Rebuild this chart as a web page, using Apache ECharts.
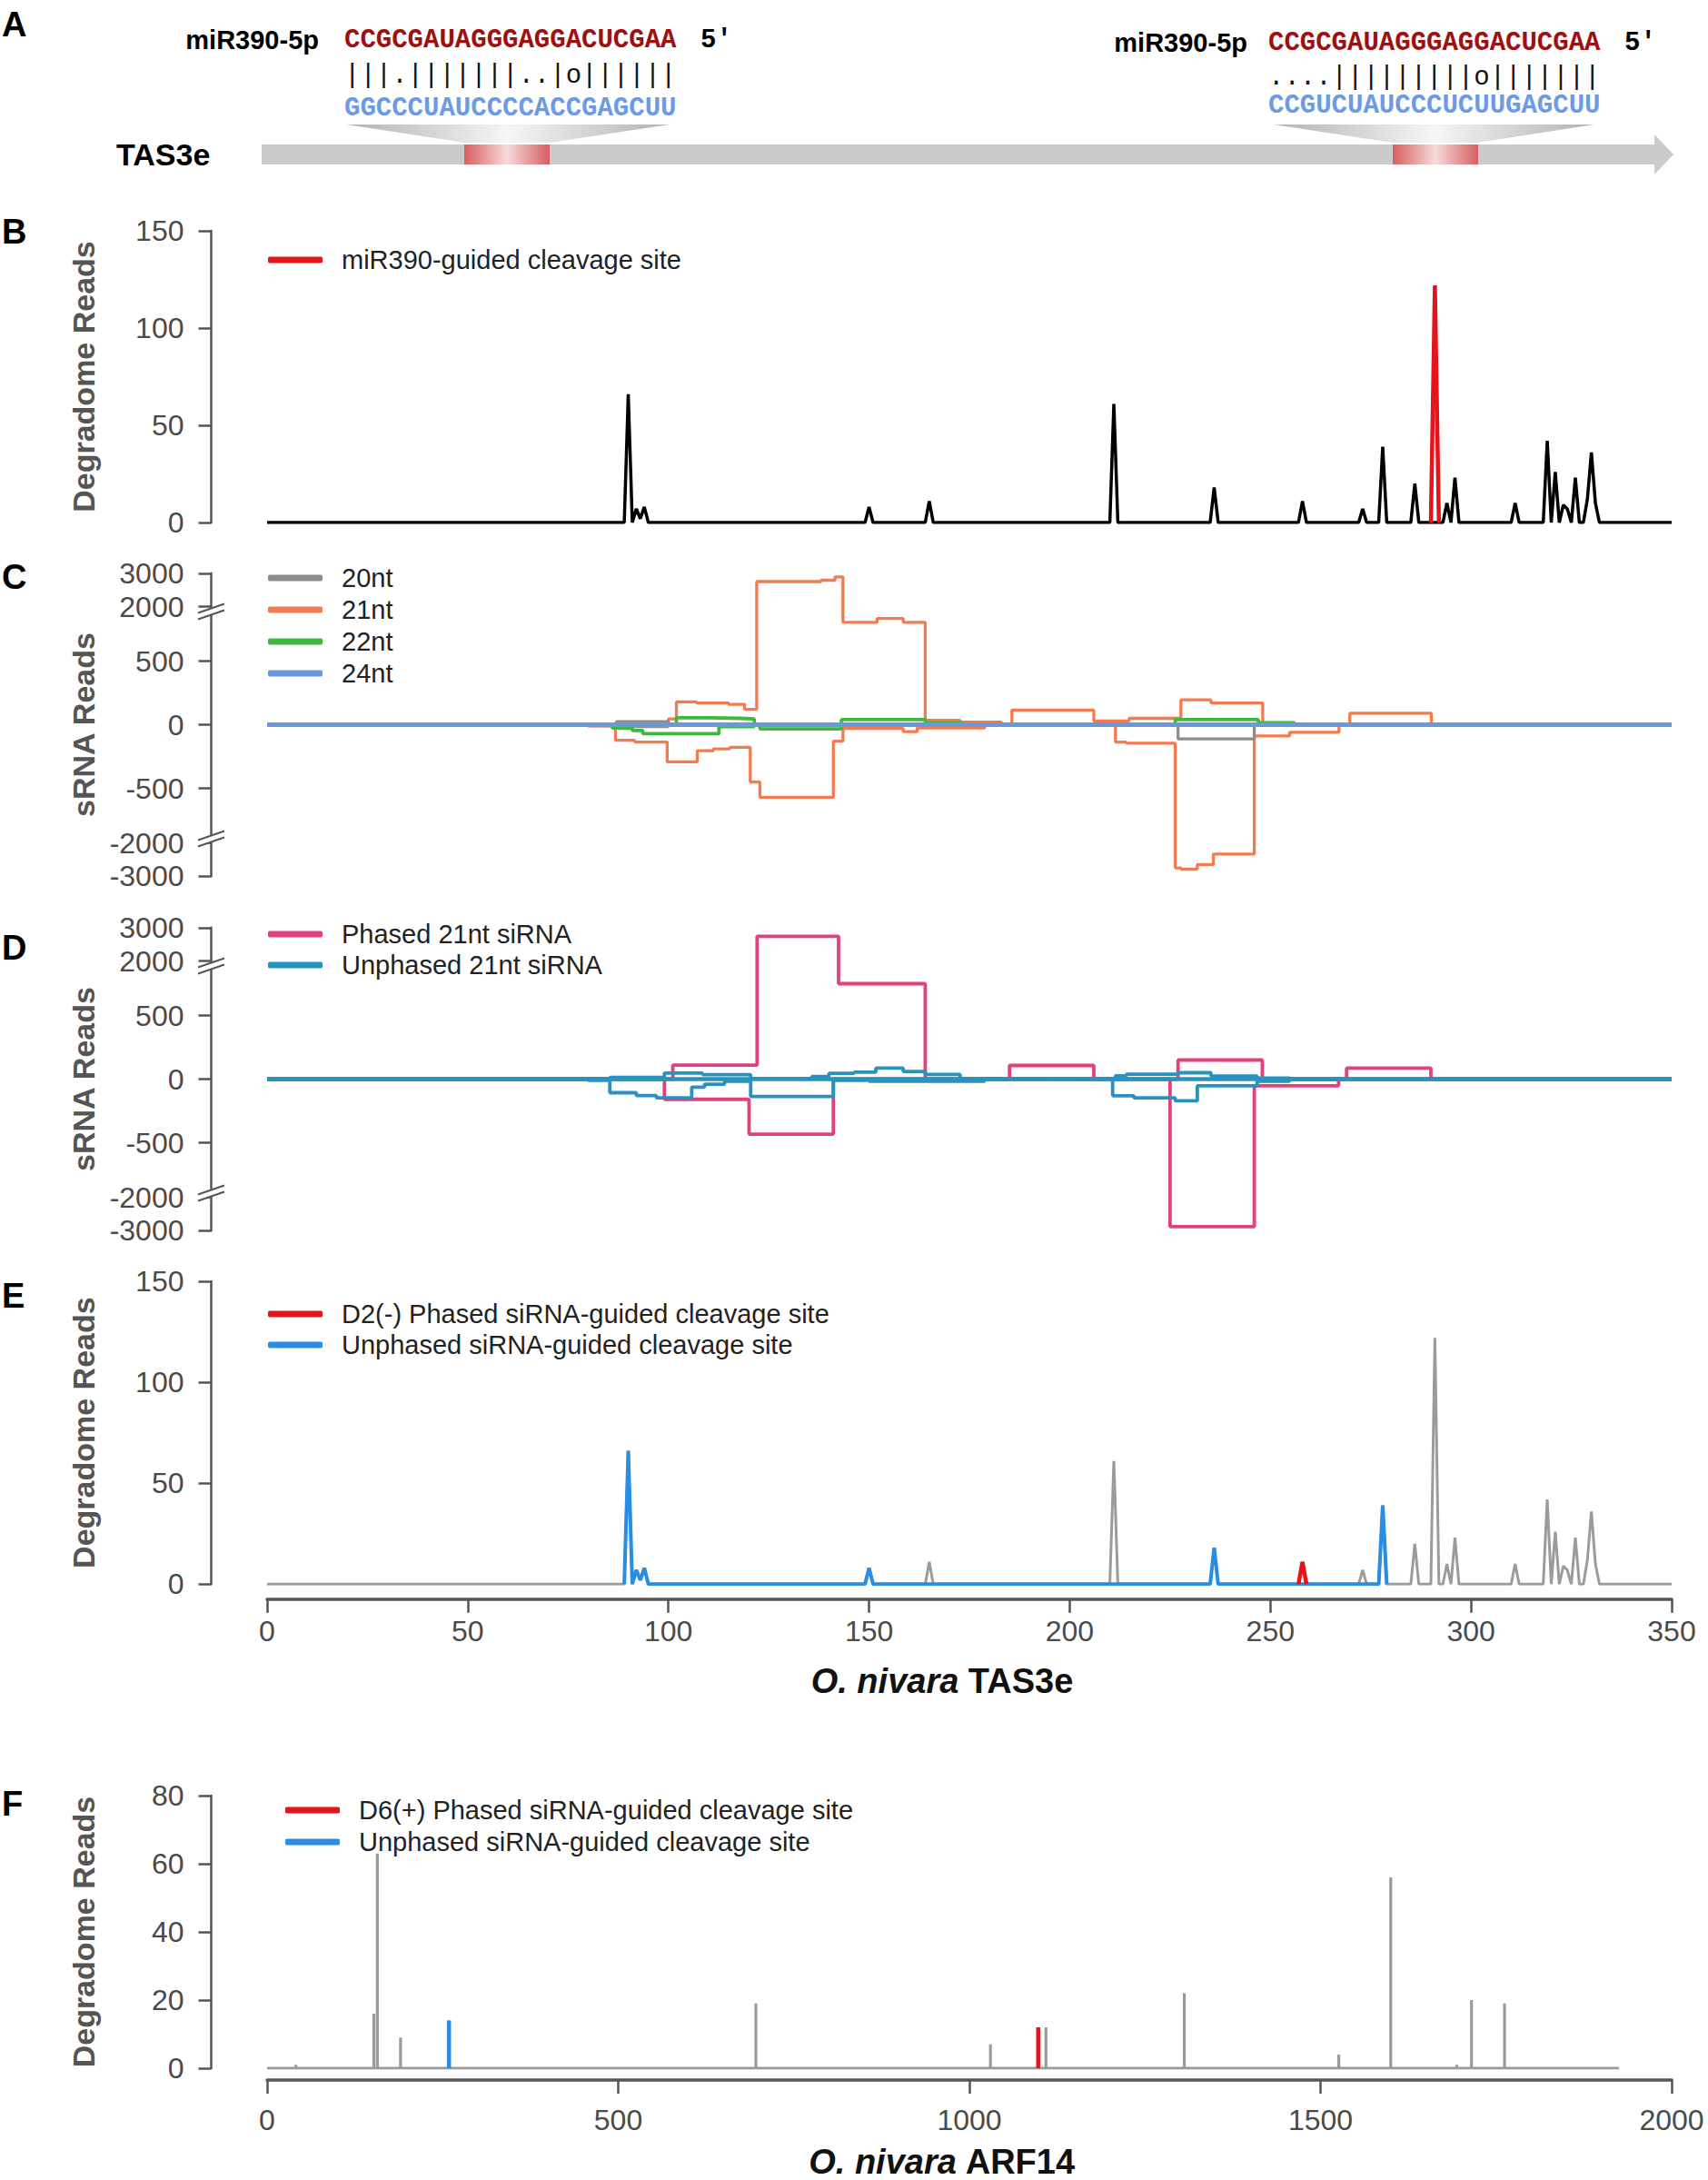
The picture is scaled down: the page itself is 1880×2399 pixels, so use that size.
<!DOCTYPE html>
<html><head><meta charset="utf-8">
<script src="https://cdn.jsdelivr.net/npm/echarts@6/dist/echarts.min.js"></script>
<style>html,body{margin:0;padding:0;background:#fff;}#c{width:1880px;height:2399px;}</style>
</head><body><div id="c"></div>
<script>
// ================= DATA =================
// Panel A: miR390 / TAS3e pairing
const mirLabel = 'miR390-5p';
const mirSeq = 'CCGCGAUAGGGAGGACUCGAA';
const site1Pair = '|||.|||||||..|o||||||';
const site1Target = 'GGCCCUAUCCCCACCGAGCUU';
const site2Pair = '....|||||||||o|||||||';
const site2Target = 'CCGUCUAUCCCUCUUGAGCUU';
const geneLabel = 'TAS3e';

// TAS3e degradome (position, reads)
const tasPeakPos = [90, 92, 93, 94, 150, 165, 211, 236, 258, 273, 278, 286, 291, 294, 296, 311, 319, 321, 323, 324, 326, 329, 330, 331];
const tasPeakVal = [66, 7, 2, 8, 8, 11, 61, 18, 11, 7, 39, 20, 122, 10, 23, 10, 42, 26, 9, 7, 23, 12, 36, 10];
const tasLength = 350;
const mir390Site = 291;
const tasUnphasedSites = [90, 92, 93, 94, 150, 236, 278];
const tasUnphasedRange = [89, 279];
const tasPhasedSite = 258;

// sRNA coverage steps (start position, reads held until next position)
const c20SensePos = [0, 87, 100, 350];
const c20SenseVal = [0, 24, 0, 0];
const c20AntiPos = [0, 80, 87, 100, 227, 246, 350];
const c20AntiVal = [0, -8, -15, 0, -111, 0, 0];
const c21SensePos = [0, 87, 100, 102, 107, 115, 119, 122, 138, 141.5, 143.5, 152, 158.5, 164, 172.7, 183, 185.6, 206, 214.8, 227.7, 235.2, 248.1, 269.8, 290.1, 350];
const c21SenseVal = [0, 15, 45, 180, 170, 160, 120, 2750, 2790, 2890, 805, 835, 805, 35, 20, 0, 115, 30, 50, 195, 170, 0, 90, 0, 0];
const c21AntiPos = [0, 80, 86.8, 91.6, 99.7, 107.2, 111.2, 115.3, 120.4, 122.8, 141.1, 143.5, 158.5, 162, 178.8, 211.4, 214.1, 226.3, 227.7, 231.8, 235.8, 246, 254.8, 267.1, 350];
const c21AntiVal = [0, -10, -123, -136, -292, -205, -190, -178, -450, -570, -130, -30, -55, -25, 0, -136, -145, -2750, -2790, -2650, -2335, -88, -60, 0, 0];
const c22SensePos = [0, 102, 110, 118, 121.4, 143.1, 164, 173, 226.3, 247, 256, 350];
const c22SenseVal = [0, 55, 50, 45, 0, 40, 15, 0, 40, 15, 0, 0];
const c22AntiPos = [0, 86, 91, 93.6, 112.6, 121.4, 122.8, 143.1, 350];
const c22AntiVal = [0, -25, -45, -70, -15, 0, -33, 0, 0];
const c24Pos = [0, 350];
const c24Val = [0, 0];

const phSensePos = [0, 101.1, 122.1, 142.4, 164, 185, 206, 227, 248, 269, 290, 350];
const phSenseVal = [0, 110, 2740, 750, 0, 107, 0, 150, 0, 86, 0, 0];
const phAntiPos = [0, 99, 120.1, 141.1, 225, 246, 267, 350];
const phAntiVal = [0, -159, -433, 0, -2880, -52, 0, 0];
const unSensePos = [0, 80, 85.4, 99, 108.5, 120.5, 135.7, 140, 146.3, 151.7, 158.5, 164, 172.7, 183, 211.4, 214.1, 227, 235.2, 246.7, 254.8, 350];
const unSenseVal = [0, 5, 14, 47, 35, 5, 20, 45, 55, 86, 60, 36, 5, 0, 26, 38, 50, 24, 7, 0, 0];
const unAntiPos = [0, 80, 85.4, 92, 97, 105.8, 109, 114, 120.5, 141.1, 150, 178.8, 210.7, 216, 226.3, 231.8, 246.7, 254.8, 350];
const unAntiVal = [0, -10, -107, -130, -148, -64, -40, -16, -136, -10, -16, 0, -131, -148, -171, -52, -16, 0, 0];

// ARF14 degradome
const arfPeakPos = [41, 152, 157, 190, 259, 696, 1030, 1098, 1109, 1306, 1526, 1600, 1694, 1715, 1762];
const arfPeakVal = [1, 16, 63, 9, 14, 19, 7, 12, 12, 22, 4, 56, 1, 20, 19];
const arfLength = 1925;
const arfUnphasedSite = 259;
const arfPhasedSite = 1098;

// tick labels
const tasTicks = [0, 50, 100, 150, 200, 250, 300, 350];
const degTicks = [0, 50, 100, 150];
const sTicks = [-3000, -2000, -500, 0, 500, 2000, 3000];
const arfXTicks = [0, 500, 1000, 1500, 2000];
const arfYTicks = [0, 20, 40, 60, 80];

// broken sRNA axis: linear to 850, compressed 850-2000, compressed above 2000
function brk(v) {
  const s = Math.sign(v), a = Math.abs(v);
  let d;
  if (a <= 850) d = a * 0.14;
  else if (a <= 2000) d = 119 + (a - 850) * (11 / 1150);
  else d = 130 + (a - 2000) * 0.0367;
  return s * d;
}

// ================= BUILDERS =================
const SANS = '"Liberation Sans", Arial, Helvetica, sans-serif';
const MONO = '"Liberation Mono", "DejaVu Sans Mono", monospace';
const AXC = '#555';

function stepData(pos, val) { return pos.map((p, i) => [p, brk(val[i])]); }
function peakMap(pos, val) { const m = new Map(); pos.forEach((p, i) => m.set(p, val[i])); return m; }
const tasMap = peakMap(tasPeakPos, tasPeakVal);
function track(from, to, valueFn) { const out = []; for (let i = from; i <= to; i++) out.push([i, valueFn(i)]); return out; }
function spike(p, v) { return [[p - 1, 0], [p, v], [p + 1, 0]]; }
function line(name, data, color, width, gi, z, step) {
  return { type: 'line', name, data, xAxisIndex: gi, yAxisIndex: gi, symbol: 'none', showSymbol: false,
    step: step ? 'end' : false, color, itemStyle: { color }, lineStyle: { color, width }, z: z || 2,
    silent: true, animation: false };
}
function arfSpikes(list) { const out = []; list.forEach(([p, v]) => { out.push([p, 0], [p, v], [p, 0]); }); return out; }

const series = [];
// B
series.push(line('TAS3e degradome', track(0, tasLength, i => i === mir390Site ? 0 : (tasMap.get(i) || 0)), '#000', 3.5, 0, 2));
series.push(line('miR390-guided cleavage site', spike(mir390Site, tasMap.get(mir390Site)), '#e3141c', 4.5, 0, 3));
// C
const ORANGE = '#f27c4f', GREY20 = '#8c8c8c', GREEN = '#3dba3d', BLUE24 = '#6a98dc';
series.push(line('21nt', stepData(c21SensePos, c21SenseVal), ORANGE, 3.3, 1, 2, true));
series.push(line('21nt', stepData(c21AntiPos, c21AntiVal), ORANGE, 3.3, 1, 2, true));
series.push(line('20nt', stepData(c20SensePos, c20SenseVal), GREY20, 3.3, 1, 2, true));
series.push(line('20nt', stepData(c20AntiPos, c20AntiVal), GREY20, 3.3, 1, 2, true));
series.push(line('22nt', stepData(c22SensePos, c22SenseVal), GREEN, 3.8, 1, 2, true));
series.push(line('22nt', stepData(c22AntiPos, c22AntiVal), GREEN, 3.8, 1, 2, true));
series.push(line('24nt', stepData(c24Pos, c24Val), BLUE24, 5, 1, 2, true));
// D
const PINK = '#e2407f', TEAL = '#2893c0';
series.push(line('Phased 21nt siRNA', stepData(phSensePos, phSenseVal), PINK, 3.8, 2, 2, true));
series.push(line('Phased 21nt siRNA', stepData(phAntiPos, phAntiVal), PINK, 3.8, 2, 2, true));
series.push(line('Unphased 21nt siRNA', stepData(unSensePos, unSenseVal), TEAL, 3.8, 2, 2, true));
series.push(line('Unphased 21nt siRNA', stepData(unAntiPos, unAntiVal), TEAL, 3.8, 2, 2, true));
series.push(line('Unphased 21nt siRNA', stepData(c24Pos, c24Val), TEAL, 4.5, 2, 2, true));
// white break bands (C, D)
[1, 2].forEach(gi => {
  series.push({ type: 'line', name: 'break' + gi, xAxisIndex: gi, yAxisIndex: gi, data: [[0, 0]], symbol: 'none',
    lineStyle: { width: 0, opacity: 0 }, z: 3, silent: true, animation: false,
    markArea: { silent: true, itemStyle: { color: '#fff', opacity: 1 },
      data: [[{ yAxis: brk(850) }, { yAxis: brk(2000) }], [{ yAxis: brk(-2000) }, { yAxis: brk(-850) }]] } });
});
// E
const GREYE = '#9b9b9b', BLUEE = '#2a8de4', RED = '#e3141c';
series.push(line('TAS3e degradome E', track(0, tasLength, i => tasMap.get(i) || 0), GREYE, 3, 3, 2));
series.push(line('Unphased siRNA-guided cleavage site',
  track(tasUnphasedRange[0], tasUnphasedRange[1], i => tasUnphasedSites.includes(i) ? tasMap.get(i) : 0), BLUEE, 4, 3, 3));
series.push(line('D2(-) Phased siRNA-guided cleavage site', spike(tasPhasedSite, tasMap.get(tasPhasedSite)), RED, 4.5, 3, 4));
// F
const arfList = arfPeakPos.map((p, i) => [p, arfPeakVal[i]]);
series.push(line('ARF14 degradome', [[0, 0]].concat(arfSpikes(arfList), [[arfLength, 0]]), '#9a9a9a', 3.2, 4, 2));
const arfMap = peakMap(arfPeakPos, arfPeakVal);
series.push(line('Unphased siRNA-guided cleavage site', [[arfUnphasedSite, 0], [arfUnphasedSite, arfMap.get(arfUnphasedSite)]], BLUEE, 4.5, 4, 3));
series.push(line('D6(+) Phased siRNA-guided cleavage site', [[arfPhasedSite, 0], [arfPhasedSite, arfMap.get(arfPhasedSite)]], RED, 4.5, 4, 3));

// ================= AXES =================
const grids = [
  { left: 294, top: 254, width: 1546, height: 321 },
  { left: 294, top: 630.8, width: 1546, height: 333.4 },
  { left: 294, top: 1020.8, width: 1546, height: 333.4 },
  { left: 294, top: 1410, width: 1546, height: 333.3 },
  { left: 294, top: 1976, width: 1546, height: 303.3 }
];
const axLine = { show: true, onZero: false, lineStyle: { color: AXC, width: 2.5 } };
const yTick = { show: true, length: 14, lineStyle: { color: AXC, width: 2.5 } };
const yLab = { fontSize: 32, color: '#4a4a4a', fontFamily: SANS, margin: 30 };
const yName = { fontSize: 34, fontWeight: 'bold', color: '#555', fontFamily: SANS };

function degY(gi, ticks, name) {
  return { type: 'value', gridIndex: gi, min: ticks[0], max: ticks[ticks.length - 1], interval: ticks[1] - ticks[0],
    offset: 61.5, axisLine: axLine, axisTick: yTick, axisLabel: Object.assign({ formatter: v => String(v) }, yLab),
    splitLine: { show: false },
    name, nameLocation: 'middle', nameGap: 124, nameMoveOverlap: false, nameTextStyle: yName };
}
function sY(gi) {
  const cv = sTicks.map(brk);
  return { type: 'value', gridIndex: gi, min: brk(sTicks[0]), max: brk(sTicks[sTicks.length - 1]),
    offset: 61.5, axisLine: axLine, axisTick: Object.assign({ customValues: cv }, yTick),
    axisLabel: Object.assign({ customValues: cv, formatter: v => {
      let best = sTicks[0], bd = Infinity;
      sTicks.forEach(t => { const d = Math.abs(brk(t) - v); if (d < bd) { bd = d; best = t; } });
      return String(best);
    } }, yLab),
    splitLine: { show: false }, name: 'sRNA Reads', nameLocation: 'middle', nameGap: 124, nameMoveOverlap: false, nameTextStyle: yName };
}
const hiddenX = gi => ({ type: 'value', gridIndex: gi, min: tasTicks[0], max: tasTicks[tasTicks.length - 1], show: false });
const xNameStyle = { fontSize: 38, fontWeight: 'bold', color: '#111', fontFamily: SANS, padding: [0, 60, 0, 0],
  rich: { i: { fontStyle: 'italic', fontWeight: 'bold', fontSize: 38, color: '#111', fontFamily: SANS } } };
function visX(gi, ticks, name, offset, gap, margin) {
  return { type: 'value', gridIndex: gi, min: ticks[0], max: ticks[ticks.length - 1], interval: ticks[1] - ticks[0],
    offset, axisLine: { show: true, onZero: false, lineStyle: { color: AXC, width: 3.5 } },
    axisTick: { show: true, length: 15, lineStyle: { color: AXC, width: 2.5 } },
    axisLabel: { fontSize: 32, color: '#4a4a4a', fontFamily: SANS, margin, formatter: v => String(v) },
    splitLine: { show: false }, name, nameLocation: 'middle', nameGap: gap, nameMoveOverlap: false, nameTextStyle: xNameStyle };
}

const legTxt = (lh) => ({ fontSize: 29, color: '#222', fontFamily: SANS, lineHeight: lh, padding: [0, 0, 0, 16] });
function legend(left, top, data, gap) {
  return { left, top, orient: 'vertical', data, icon: 'roundRect', itemWidth: 60, itemHeight: 7, itemGap: gap,
    selectedMode: false, textStyle: legTxt(30), padding: 0 };
}

const option = {
  animation: false,
  backgroundColor: '#fff',
  grid: grids,
  xAxis: [hiddenX(0), hiddenX(1), hiddenX(2),
    visX(3, tasTicks, '{i|O. nivara} TAS3e', 16.5, 71, 19),
    visX(4, arfXTicks, '{i|O. nivara} ARF14', 13, 71, 28)],
  yAxis: [degY(0, degTicks, 'Degradome Reads'), sY(1), sY(2), degY(3, degTicks, 'Degradome Reads'), degY(4, arfYTicks, 'Degradome Reads')],
  legend: [
    legend(295, 271, ['miR390-guided cleavage site'], 5),
    legend(295, 621, ['20nt', '21nt', '22nt', '24nt'], 5),
    legend(295, 1013, ['Phased 21nt siRNA', 'Unphased 21nt siRNA'], 4),
    legend(295, 1431, ['D2(-) Phased siRNA-guided cleavage site', 'Unphased siRNA-guided cleavage site'], 4),
    legend(314, 1977, ['D6(+) Phased siRNA-guided cleavage site', 'Unphased siRNA-guided cleavage site'], 5)
  ],
  series
};

const chart = echarts.init(document.getElementById('c'), null, { renderer: 'svg', width: 1880, height: 2399 });
chart.setOption(option);

// ================= GRAPHICS (panel A, panel letters, axis breaks) =================
function txt(x, y, text, font, fill, align) {
  return { type: 'text', x, y, z: 10, silent: true, style: { text, font, fill, align: align || 'left', verticalAlign: 'middle' } };
}
const grayGrad = () => new echarts.graphic.LinearGradient(0, 0, 1, 0, [
  { offset: 0, color: '#b2b2b2' }, { offset: 0.5, color: '#f6f6f6' }, { offset: 1, color: '#b2b2b2' }]);
const redGrad = () => new echarts.graphic.LinearGradient(0, 0, 1, 0, [
  { offset: 0, color: '#d65f61' }, { offset: 0.5, color: '#f8dada' }, { offset: 1, color: '#d65f61' }]);

const BOLD29 = 'bold 29px ' + SANS;
const SEQF = 'bold 29px ' + MONO;
const PAIRF = '29px ' + MONO;
const g = [];
// letters
[['A', 27], ['B', 255], ['C', 635], ['D', 1043], ['E', 1426], ['F', 1985]].forEach(([t, y]) =>
  g.push(txt(2, y, t, 'bold 38px ' + SANS, '#000')));
// gene bar
g.push({ type: 'rect', z: 5, silent: true, shape: { x: 288, y: 159, width: 1533, height: 22 }, style: { fill: '#cbcbcb' } });
g.push({ type: 'polygon', z: 5, silent: true, shape: { points: [[1821, 148], [1842, 170], [1821, 192]] }, style: { fill: '#cbcbcb' } });
g.push(txt(128, 170, geneLabel, 'bold 34px ' + SANS, '#000'));
// two pairing sites
[
  { lx: 351, sx: 379, sy: 44, py: 83, ty: 119, pair: site1Pair, tgt: site1Target, f: [[381, 137], [737, 137], [605, 157], [511, 157]], bx: 511 },
  { lx: 1373, sx: 1396, sy: 47, py: 85, ty: 116, pair: site2Pair, tgt: site2Target, f: [[1402, 137], [1755, 137], [1626, 157], [1533, 157]], bx: 1533 }
].forEach(s => {
  g.push(txt(s.lx, s.sy, mirLabel, BOLD29, '#000', 'right'));
  g.push(txt(s.sx, s.sy, mirSeq, SEQF, '#9e1010'));
  g.push(txt(s.sx + 392, s.sy, "5'", SEQF, '#000'));
  g.push(txt(s.sx, s.py, s.pair, PAIRF, '#111'));
  g.push(txt(s.sx, s.ty, s.tgt, SEQF, '#6b9be6'));
  g.push({ type: 'polygon', z: 5, silent: true, shape: { points: s.f }, style: { fill: grayGrad() } });
  g.push({ type: 'rect', z: 6, silent: true, shape: { x: s.bx, y: 159, width: 94, height: 22 }, style: { fill: redGrad() } });
});
// axis break marks on C and D y-axes
[1, 2].forEach(gi => {
  const zero = chart.convertToPixel({ yAxisIndex: gi }, 0);
  [zero - 126, zero + 124].forEach(yc => {
    g.push({ type: 'polygon', z: 7, silent: true, shape: { points: [[218, yc + 3], [247, yc - 7], [247, yc], [218, yc + 10]] }, style: { fill: '#fff' } });
    g.push({ type: 'line', z: 8, silent: true, shape: { x1: 218, y1: yc + 3, x2: 247, y2: yc - 7 }, style: { stroke: AXC, lineWidth: 2 } });
    g.push({ type: 'line', z: 8, silent: true, shape: { x1: 218, y1: yc + 10, x2: 247, y2: yc }, style: { stroke: AXC, lineWidth: 2 } });
  });
});
chart.setOption({ graphic: { elements: g } });
</script>
</body></html>
